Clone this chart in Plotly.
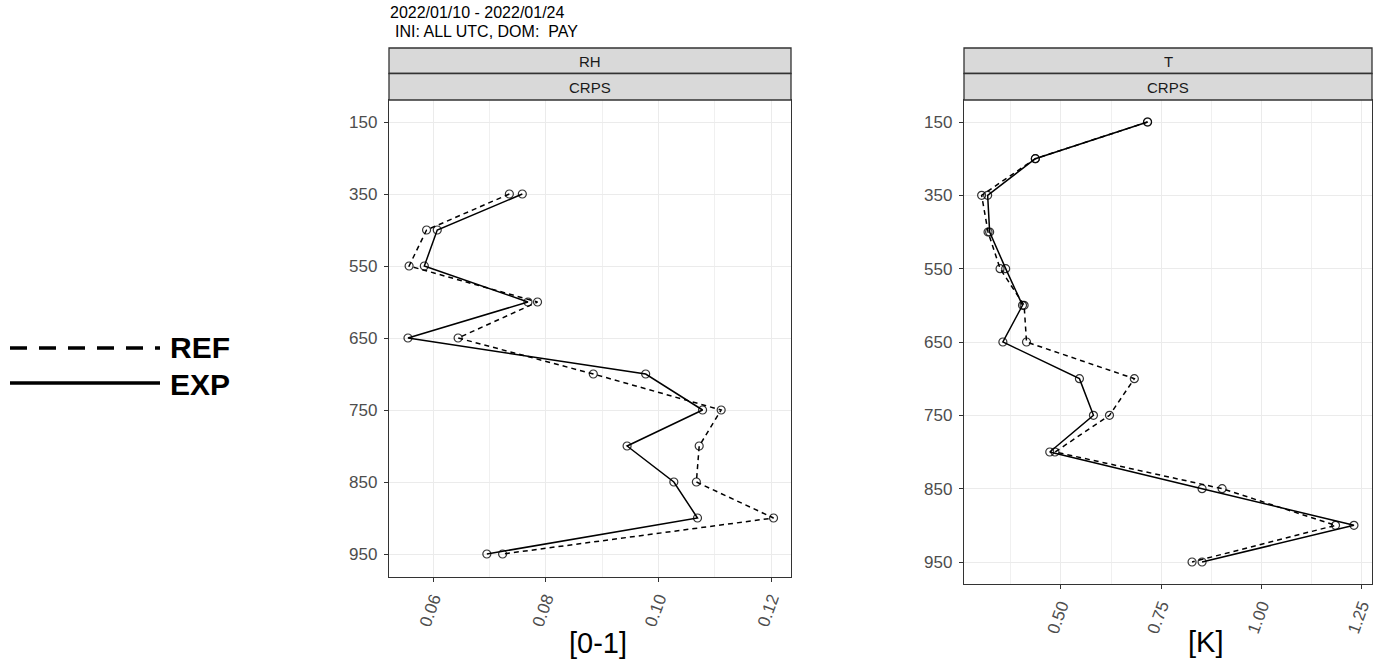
import plotly.graph_objects as go

W, H = 1383, 662

# ---------------- data ----------------
levels = ["150", "250", "350", "450", "550", "600", "650", "700", "750", "800", "850", "900", "950"]
tick_levels = ["150", "350", "550", "650", "750", "850", "950"]

rh_ref = [None, None, 0.0735, 0.0588, 0.0557, 0.0785, 0.0644, 0.0884, 0.1111, 0.1072, 0.1067, 0.1204, 0.0723]
rh_exp = [None, None, 0.0758, 0.0607, 0.0584, 0.0768, 0.0555, 0.0977, 0.1078, 0.0944, 0.1027, 0.1069, 0.0695]
t_ref = [0.716, 0.436, 0.302, 0.318, 0.348, 0.408, 0.414, 0.683, 0.621, 0.485, 0.902, 1.185, 0.827]
t_exp = [0.716, 0.436, 0.317, 0.322, 0.362, 0.404, 0.355, 0.546, 0.581, 0.472, 0.852, 1.231, 0.852]

rh_ticks = [0.06, 0.08, 0.10, 0.12]
t_ticks = [0.50, 0.75, 1.00, 1.25]

title1 = "2022/01/10 - 2022/01/24"
title2 = "INI: ALL UTC, DOM:\u00a0\u00a0PAY"
panel_names = ["RH", "T"]
score_name = "CRPS"
unit_labels = ["[0-1]", "[K]"]
legend_names = ["REF", "EXP"]

# ---------------- helpers ----------------
def px(x):
    return x / W

def py(y):
    return 1 - y / H

FONT = "Liberation Sans, Arial, sans-serif"
fig = go.Figure()

line_style = {"REF": dict(color="black", width=1.5, dash="5px,4px"),
              "EXP": dict(color="black", width=1.5)}
marker_style = dict(symbol="circle-open", size=8, color="rgba(0,0,0,0.8)",
                    line=dict(width=1.2, color="rgba(0,0,0,0.8)"))

for name, vals in (("REF", rh_ref), ("EXP", rh_exp)):
    fig.add_trace(go.Scatter(x=vals, y=levels, mode="lines+markers", name=name,
                             line=line_style[name], marker=marker_style,
                             xaxis="x", yaxis="y", showlegend=False, connectgaps=False))
for name, vals in (("REF", t_ref), ("EXP", t_exp)):
    fig.add_trace(go.Scatter(x=vals, y=levels, mode="lines+markers", name=name,
                             line=line_style[name], marker=marker_style,
                             xaxis="x2", yaxis="y2", showlegend=False))

tickfont = dict(family=FONT, size=17, color="#4D4D4D")
common_x = dict(showline=True, mirror=True, linecolor="#333333", linewidth=1.3,
                ticks="outside", ticklen=4, tickcolor="#333333", tickwidth=1,
                showgrid=True, gridcolor="#EBEBEB", gridwidth=1.2, zeroline=False,
                tickangle=-70, tickfont=tickfont)
common_y = dict(type="category", categoryorder="array", categoryarray=levels,
                tickvals=tick_levels, ticktext=tick_levels,
                showline=True, mirror=True, linecolor="#333333", linewidth=1.3,
                ticks="outside", ticklen=4, tickcolor="#333333", tickwidth=1,
                showgrid=True, gridcolor="#EBEBEB", gridwidth=1.2, zeroline=False,
                tickfont=tickfont, ticklabelstandoff=3)

fig.update_layout(
    width=W, height=H, margin=dict(l=0, r=0, t=0, b=0),
    paper_bgcolor="white", plot_bgcolor="white",
    xaxis=dict(common_x, domain=[px(389), px(791)], range=[0.05213, 0.1235],
               tickvals=rh_ticks, ticktext=["0.06", "0.08", "0.10", "0.12"],
               minor=dict(tickvals=[0.05, 0.07, 0.09, 0.11], showgrid=True,
                          gridcolor="#F0F0F0", gridwidth=0.7, ticklen=0),
               anchor="y"),
    yaxis=dict(common_y, domain=[py(577), py(100)], range=[12.639, -0.611], anchor="x"),
    xaxis2=dict(common_x, domain=[px(964), px(1372)], range=[0.258, 1.276],
                tickvals=t_ticks, ticktext=["0.50", "0.75", "1.00", "1.25"],
                minor=dict(tickvals=[0.375, 0.625, 0.875, 1.125], showgrid=True,
                           gridcolor="#F0F0F0", gridwidth=0.7, ticklen=0),
                anchor="y2"),
    yaxis2=dict(common_y, domain=[py(584), py(100)], range=[12.6, -0.6], anchor="x2"),
)

shapes = []
annotations = []

# facet strips
for (x0, x1), pname in zip(((389, 791), (964, 1372)), panel_names):
    for (y0, y1), label in (((48, 73.5), pname), ((73.5, 100), score_name)):
        shapes.append(dict(type="rect", xref="paper", yref="paper",
                           x0=px(x0), x1=px(x1), y0=py(y1), y1=py(y0),
                           fillcolor="#D9D9D9", line=dict(color="#333333", width=1.3),
                           layer="above"))
        annotations.append(dict(xref="paper", yref="paper", x=px((x0 + x1) / 2),
                                y=py((y0 + y1) / 2 + 0.5), text=label, showarrow=False,
                                xanchor="center", yanchor="middle",
                                font=dict(family=FONT, size=15, color="#1A1A1A")))

# title
annotations.append(dict(xref="paper", yref="paper", x=px(388), y=py(12.5), text=title1,
                        showarrow=False, xanchor="left", yanchor="middle",
                        font=dict(family=FONT, size=16, color="black")))
annotations.append(dict(xref="paper", yref="paper", x=px(393), y=py(31), text=title2,
                        showarrow=False, xanchor="left", yanchor="middle",
                        font=dict(family=FONT, size=16, color="black")))

# unit labels under the panels
annotations.append(dict(xref="paper", yref="paper", x=px(598), y=py(643), text=unit_labels[0],
                        showarrow=False, xanchor="center", yanchor="middle",
                        font=dict(family=FONT, size=29, color="black")))
annotations.append(dict(xref="paper", yref="paper", x=px(1205), y=py(642), text=unit_labels[1],
                        showarrow=False, xanchor="center", yanchor="middle",
                        font=dict(family=FONT, size=29, color="black")))

# legend on the left
shapes.append(dict(type="line", xref="paper", yref="paper", x0=px(10), x1=px(160),
                   y0=py(348), y1=py(348), line=dict(color="black", width=3.5, dash="17px,12px")))
shapes.append(dict(type="line", xref="paper", yref="paper", x0=px(10), x1=px(160),
                   y0=py(383), y1=py(383), line=dict(color="black", width=3.5)))
annotations.append(dict(xref="paper", yref="paper", x=px(168), y=py(348), text="<b>%s</b>" % legend_names[0],
                        showarrow=False, xanchor="left", yanchor="middle",
                        font=dict(family=FONT, size=30, color="black")))
annotations.append(dict(xref="paper", yref="paper", x=px(168), y=py(384), text="<b>%s</b>" % legend_names[1],
                        showarrow=False, xanchor="left", yanchor="middle",
                        font=dict(family=FONT, size=30, color="black")))

fig.update_layout(shapes=shapes, annotations=annotations)

fig.write_html("out.html")
